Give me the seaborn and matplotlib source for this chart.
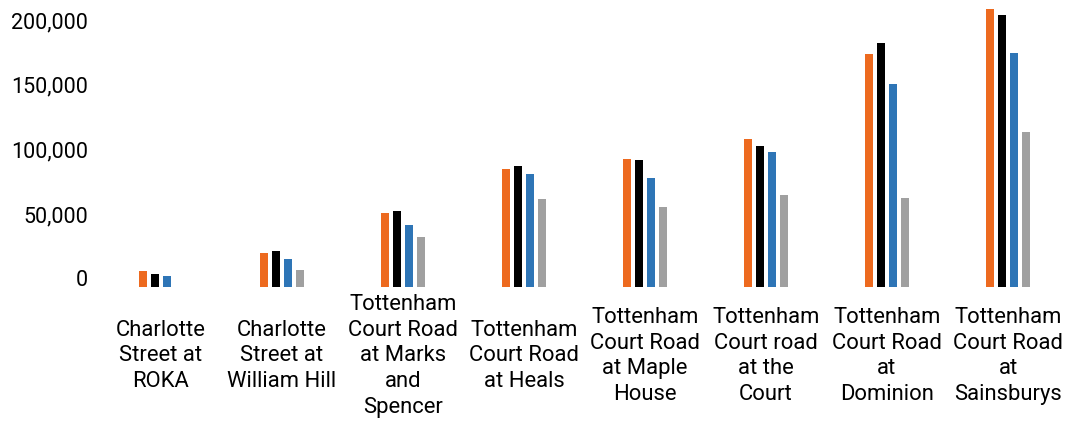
import matplotlib
matplotlib.use("Agg")
import matplotlib.pyplot as plt
import matplotlib.transforms as mtransforms
import seaborn as sns
import pandas as pd

categories = [
    "Charlotte\nStreet at\nROKA",
    "Charlotte\nStreet at\nWilliam Hill",
    "Tottenham\nCourt Road\nat Marks\nand\nSpencer",
    "Tottenham\nCourt Road\nat Heals",
    "Tottenham\nCourt Road\nat Maple\nHouse",
    "Tottenham\nCourt road\nat the\nCourt",
    "Tottenham\nCourt Road\nat\nDominion",
    "Tottenham\nCourt Road\nat\nSainsburys",
]
series_names = ["Series 1", "Series 2", "Series 3", "Series 4"]
series1 = [12000, 26000, 57000, 91000, 99000, 114000, 180000, 215000]
series2 = [9700, 27500, 58700, 93000, 97800, 108600, 189000, 210000]
series3 = [8400, 21300, 47400, 87200, 84100, 104500, 156700, 180700]
series4 = [0, 13000, 38100, 67800, 61900, 70600, 68900, 120000]
colors = ["#ED6A1F", "#000000", "#2E75B6", "#A0A0A0"]
yticks = [0, 50000, 100000, 150000, 200000]

rows = []
for name, vals in zip(series_names, [series1, series2, series3, series4]):
    for cat, v in zip(categories, vals):
        rows.append({"site": cat, "series": name, "value": v})
df = pd.DataFrame(rows)

sns.set_theme(style="white")
plt.rcParams["font.family"] = ["Roboto", "DejaVu Sans"]

fig = plt.figure(figsize=(10.65, 4.21), dpi=100)
ax = fig.add_axes([100.5 / 1065, (421 - 286.5) / 421, 968 / 1065, 286.5 / 421])

sns.barplot(data=df, x="site", y="value", hue="series", order=categories,
            hue_order=series_names, palette=colors, width=0.403, gap=0.37,
            legend=False, ax=ax, saturation=1, linewidth=0)

ax.set_xlim(-0.5, 7.5)
ax.set_ylim(0, 222000)
ax.set_yticks(yticks)
ax.set_yticklabels([f"{v:,}" for v in yticks], fontsize=15.5, color="#000000")
ax.set_xlabel("")
ax.set_ylabel("")
for s in ax.spines.values():
    s.set_visible(False)
ax.tick_params(axis="y", length=0, pad=9)
ax.tick_params(axis="x", length=0, pad=50)
for lbl in ax.get_xticklabels():
    lbl.set_verticalalignment("center")
    lbl.set_fontsize(15.8)
    lbl.set_linespacing(1.3)
    lbl.set_color("#000000")
offset = mtransforms.ScaledTranslation(0, 8 / 100, fig.dpi_scale_trans)
for lbl in ax.get_yticklabels():
    lbl.set_transform(lbl.get_transform() + offset)

fig.savefig("out.png", dpi=100)
